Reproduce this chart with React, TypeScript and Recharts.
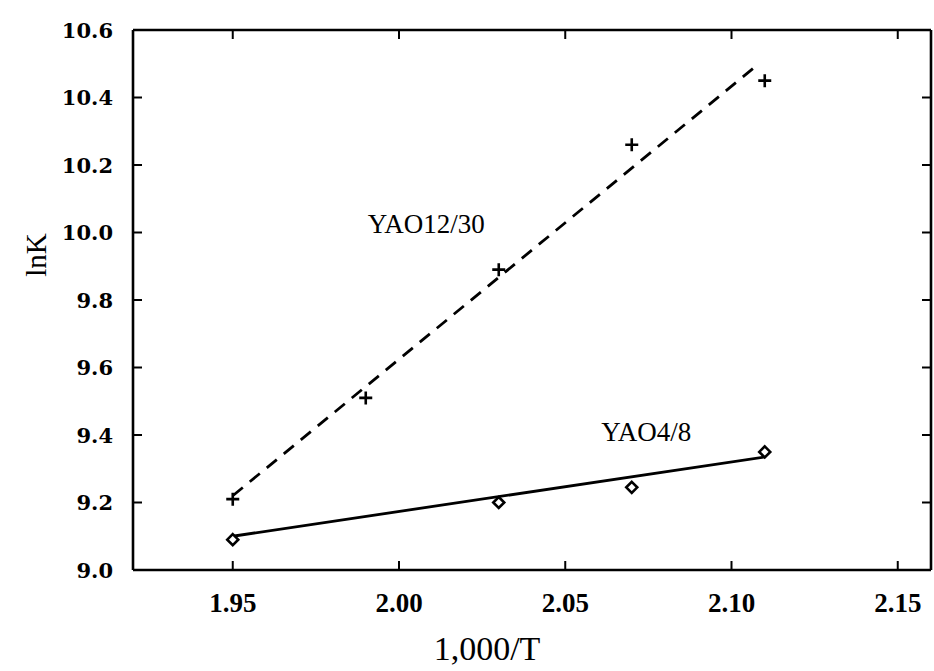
import React from 'react';
import {
  ScatterChart,
  Scatter,
  XAxis,
  YAxis,
  ReferenceDot,
} from 'recharts';

// ---- data ----
const yao12X = [1.95, 1.99, 2.03, 2.07, 2.11];
const yao12Y = [9.21, 9.51, 9.89, 10.26, 10.45];

const yao4X = [1.95, 2.03, 2.07, 2.11];
const yao4Y = [9.09, 9.2, 9.245, 9.35];

const fit12X = [1.95, 2.107];
const fit12Y = [9.22, 10.49];

const fit4X = [1.95, 2.11];
const fit4Y = [9.1, 9.335];

const xTicks = [1.95, 2.0, 2.05, 2.1, 2.15];
const yTicks = [9.0, 9.2, 9.4, 9.6, 9.8, 10.0, 10.2, 10.4, 10.6];
const xDomain = [1.92, 2.16];
const yDomain = [9.0, 10.6];

const label12 = { x: 2.0082, y: 10.026, text: 'YAO12/30' };
const label4 = { x: 2.0744, y: 9.41, text: 'YAO4/8' };

const zip = (xs: number[], ys: number[]) => xs.map((x, i) => ({ x, y: ys[i] }));

const yao12Data = zip(yao12X, yao12Y);
const yao4Data = zip(yao4X, yao4Y);
const fit12Data = zip(fit12X, fit12Y);
const fit4Data = zip(fit4X, fit4Y);

const TICK_LEN = 9;
const TICK_W = 2;
const INK = '#000';

const PlusShape = (props: any) => {
  const { cx, cy } = props;
  if (cx == null || cy == null) return <g />;
  const h = 6.5;
  return (
    <path d={`M${cx - h},${cy}H${cx + h}M${cx},${cy - h}V${cy + h}`} stroke={INK} strokeWidth={2.6} fill="none" />
  );
};

const DiamondShape = (props: any) => {
  const { cx, cy } = props;
  if (cx == null || cy == null) return <g />;
  const h = 5.5;
  return (
    <path d={`M${cx},${cy - h}L${cx + h},${cy}L${cx},${cy + h}L${cx - h},${cy}Z`} stroke={INK} strokeWidth={2.6} fill="#fff" />
  );
};

const NoShape = () => <g />;

const BottomTick = (props: any) => {
  const { x, y, payload } = props;
  return (
    <g>
      <path d={`M${x},${y}V${y - TICK_LEN}`} stroke={INK} strokeWidth={TICK_W} />
      <text x={x} y={y + 23} dy="0.71em" textAnchor="middle" fill={INK} fontFamily="Liberation Serif" fontWeight="bold" fontSize={27}>
        {Number(payload.value).toFixed(2)}
      </text>
    </g>
  );
};

const TopTick = (props: any) => {
  const { x, y } = props;
  return <path d={`M${x},${y}V${y + TICK_LEN}`} stroke={INK} strokeWidth={TICK_W} />;
};

const LeftTick = (props: any) => {
  const { x, y, payload } = props;
  return (
    <g>
      <path d={`M${x},${y}H${x + TICK_LEN}`} stroke={INK} strokeWidth={TICK_W} />
      <text x={x - 20} y={y} dy="0.36em" textAnchor="end" fill={INK} fontFamily="DejaVu Serif" fontWeight="bold" fontSize={21}>
        {Number(payload.value).toFixed(1)}
      </text>
    </g>
  );
};

const RightTick = (props: any) => {
  const { x, y } = props;
  return <path d={`M${x},${y}H${x - TICK_LEN}`} stroke={INK} strokeWidth={TICK_W} />;
};

export default function App() {
  return (
    <div style={{ position: 'absolute', left: 0, top: 0, background: '#fff' }}>
      <ScatterChart width={934} height={671} margin={{ top: 29, right: 2, bottom: 0, left: 0 }}>
        <XAxis xAxisId="b" dataKey="x" type="number" domain={xDomain} ticks={xTicks} height={101}
          tickSize={0} tickMargin={0} tickLine={false} tick={BottomTick} interval={0}
          axisLine={{ stroke: INK, strokeWidth: 2.6 }}
          label={{ value: '1,000/T', position: 'center', dx: -45, dy: 27, fill: INK, fontFamily: 'Liberation Serif', fontSize: 34 }} />
        <XAxis xAxisId="t" dataKey="x" type="number" orientation="top" domain={xDomain} ticks={xTicks} height={1}
          tickSize={0} tickMargin={0} tickLine={false} tick={TopTick} interval={0}
          axisLine={{ stroke: INK, strokeWidth: 2.6 }} />
        <YAxis yAxisId="l" dataKey="y" type="number" domain={yDomain} ticks={yTicks} width={133}
          tickSize={0} tickMargin={0} tickLine={false} tick={LeftTick} interval={0}
          axisLine={{ stroke: INK, strokeWidth: 2.6 }}
          label={{ value: 'lnK', angle: -90, position: 'center', dx: -31, dy: -45, fill: INK, fontFamily: 'Liberation Serif', fontSize: 29 }} />
        <YAxis yAxisId="r" dataKey="y" type="number" orientation="right" domain={yDomain} ticks={yTicks} width={1}
          tickSize={0} tickMargin={0} tickLine={false} tick={RightTick} interval={0}
          axisLine={{ stroke: INK, strokeWidth: 2.6 }} />

        <Scatter xAxisId="b" yAxisId="l" data={fit12Data}
          line={{ stroke: INK, strokeWidth: 2.8, strokeDasharray: '13 9' }} shape={NoShape} isAnimationActive={false} />
        <Scatter xAxisId="b" yAxisId="l" data={fit4Data}
          line={{ stroke: INK, strokeWidth: 2.8 }} shape={NoShape} isAnimationActive={false} />
        <Scatter xAxisId="b" yAxisId="l" data={yao12Data} shape={PlusShape} isAnimationActive={false} />
        <Scatter xAxisId="b" yAxisId="l" data={yao4Data} shape={DiamondShape} isAnimationActive={false} />
        {/* ties the mirror (top/right) frame axes to the same data */}
        <Scatter xAxisId="t" yAxisId="r" data={yao4Data} shape={NoShape} isAnimationActive={false} />

        <ReferenceDot xAxisId="b" yAxisId="l" x={label12.x} y={label12.y} r={0} fill="none" stroke="none"
          label={{ value: label12.text, position: 'center', fill: INK, fontFamily: 'Liberation Serif', fontSize: 27 }} />
        <ReferenceDot xAxisId="b" yAxisId="l" x={label4.x} y={label4.y} r={0} fill="none" stroke="none"
          label={{ value: label4.text, position: 'center', fill: INK, fontFamily: 'Liberation Serif', fontSize: 27 }} />
      </ScatterChart>
    </div>
  );
}
